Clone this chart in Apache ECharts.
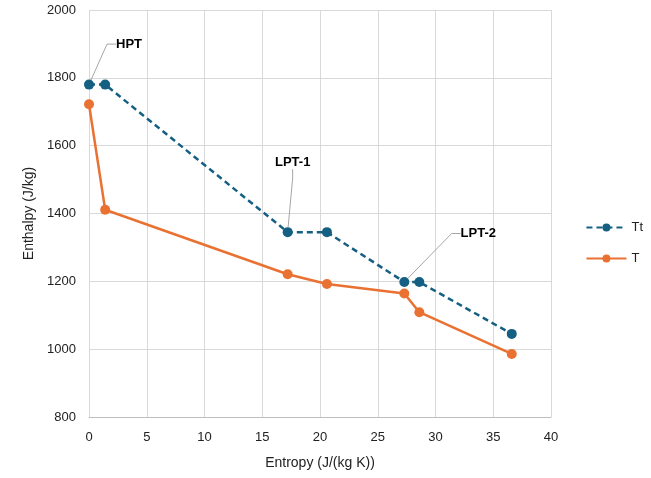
<!DOCTYPE html>
<html>
<head>
    <meta charset="UTF-8">
    <title>Enthalpy vs Entropy</title>
    <style>
        html, body { margin: 0; padding: 0; background: #fff; }
        #main { width: 651px; height: 478px; }
    </style>
</head>
<body>
<div id="main"></div>
<script src="https://cdn.jsdelivr.net/npm/echarts@6/dist/echarts.min.js"></script>
<script>
    // data
    var entropy = [0, 1.4, 17.2, 20.6, 27.3, 28.6, 36.6];
    var ttValues = [1780, 1780, 1345, 1345, 1198, 1198, 1045];
    var tValues = [1722, 1411, 1221, 1192, 1164, 1109, 986];
    var stageNames = ['HPT', '', 'LPT-1', '', 'LPT-2', '', ''];
    // label offsets (px) for the leader labels
    var labelOffsets = {0: [40, -24], 2: [5, -53], 4: [74, -32]};

    function pairs(xs, ys) {
        var out = [];
        for (var i = 0; i < xs.length; i++) out.push([xs[i], ys[i]]);
        return out;
    }

    var ttData = pairs(entropy, ttValues).map(function (p, i) {
        var item = {value: p};
        if (stageNames[i]) {
            item.label = {show: true, formatter: stageNames[i]};
            item.labelLine = {show: true};
        }
        return item;
    });

    var font = 'Liberation Sans, Arial, sans-serif';
    var myChart = echarts.init(document.getElementById('main'));

    var option = {
        animation: false,
        textStyle: {fontFamily: font},
        grid: {left: 89, right: 100, top: 10, bottom: 61},
        legend: {
            orient: 'vertical',
            right: 3,
            top: 216,
            itemGap: 18,
            itemWidth: 40,
            itemHeight: 10,
            textStyle: {fontSize: 13, color: '#222', fontFamily: font},
            data: ['Tt', 'T']
        },
        xAxis: {
            type: 'value',
            min: 0, max: 40, interval: 5,
            name: 'Entropy (J/(kg K))',
            nameLocation: 'middle',
            nameGap: 39,
            nameTextStyle: {fontSize: 14, color: '#222'},
            axisLine: {lineStyle: {color: '#bfbfbf'}},
            axisTick: {show: false},
            axisLabel: {fontSize: 13, color: '#222', margin: 14},
            splitLine: {lineStyle: {color: '#d9d9d9'}}
        },
        yAxis: {
            type: 'value',
            min: 800, max: 2000, interval: 200,
            name: 'Enthalpy (J/kg)',
            nameLocation: 'middle',
            nameGap: 52,
            nameTextStyle: {fontSize: 14, color: '#222'},
            axisLine: {show: false},
            axisTick: {show: false},
            axisLabel: {
                fontSize: 13, color: '#222', margin: 13,
                formatter: function (v) { return String(v); }
            },
            splitLine: {lineStyle: {color: '#d9d9d9'}}
        },
        series: [
            {
                name: 'Tt',
                type: 'line',
                data: ttData,
                symbol: 'circle',
                symbolSize: 10,
                itemStyle: {color: '#156082'},
                lineStyle: {width: 2.5, type: [6, 4], color: '#156082'},
                label: {
                    show: false,
                    fontSize: 13,
                    fontWeight: 'bold',
                    color: '#000'
                },
                labelLine: {
                    show: false,
                    length2: 9,
                    lineStyle: {color: '#a6a6a6', width: 1}
                },
                labelLayout: function (params) {
                    var off = labelOffsets[params.dataIndex];
                    if (!off) return {};
                    return {dx: off[0], dy: off[1]};
                },
                z: 3
            },
            {
                name: 'T',
                type: 'line',
                data: pairs(entropy, tValues),
                symbol: 'circle',
                symbolSize: 10,
                itemStyle: {color: '#E97132'},
                lineStyle: {width: 2.5, color: '#E97132'},
                z: 2
            }
        ]
    };

    myChart.setOption(option);
</script>
</body>
</html>
